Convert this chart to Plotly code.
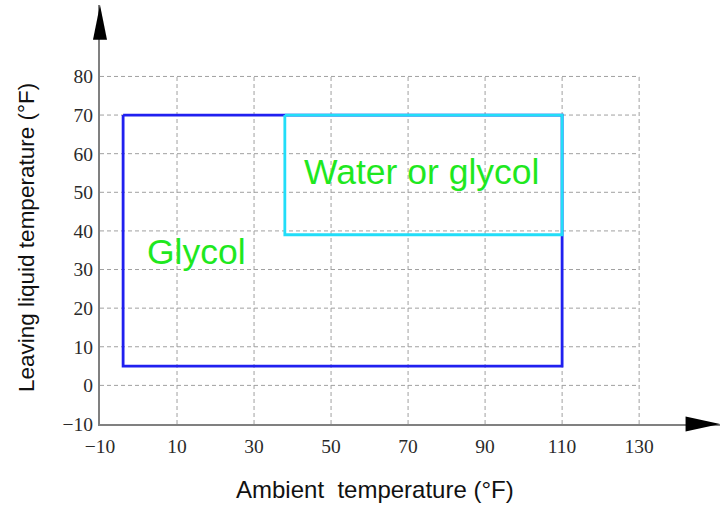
import plotly.graph_objects as go

# ---- data ----
x_ticks = [-10, 10, 30, 50, 70, 90, 110, 130]
y_ticks = [-10, 0, 10, 20, 30, 40, 50, 60, 70, 80]
x_grid = [10, 30, 50, 70, 90, 110, 130]
y_grid = [0, 10, 20, 30, 40, 50, 60, 70, 80]

glycol_x = [-4, 110]     # ambient range (°F)
glycol_y = [5, 70]       # leaving liquid range (°F)
water_x = [38, 110]
water_y = [39, 70]

region_labels = ["Glycol", "Water or glycol"]
label_x = [15, 73.5]
label_y = [34.5, 55.3]

x_range = [-10, 151]
y_range = [-10, 98.5]

fig = go.Figure()

# dashed grid (limited to the tick region)
grid_col = "#a0a0a0"
for gx in x_grid:
    fig.add_trace(go.Scatter(x=[gx, gx], y=[y_ticks[0], y_grid[-1]], mode="lines",
                             line=dict(color=grid_col, width=1, dash="4px,3px"),
                             hoverinfo="skip", showlegend=False))
for gy in y_grid:
    fig.add_trace(go.Scatter(x=[x_ticks[0], x_grid[-1]], y=[gy, gy], mode="lines",
                             line=dict(color=grid_col, width=1, dash="4px,3px"),
                             hoverinfo="skip", showlegend=False))

def rect(xs, ys):
    return ([xs[0], xs[0], xs[1], xs[1], xs[0]], [ys[1], ys[0], ys[0], ys[1], ys[1]])

gx_, gy_ = rect(glycol_x, glycol_y)
fig.add_trace(go.Scatter(x=gx_, y=gy_, mode="lines", line=dict(color="#2020f0", width=2.8),
                         showlegend=False, hoverinfo="skip"))
wx_, wy_ = rect(water_x, water_y)
fig.add_trace(go.Scatter(x=wx_, y=wy_, mode="lines", line=dict(color="#22ddf8", width=2.8),
                         showlegend=False, hoverinfo="skip"))

for t, lx, ly in zip(region_labels, label_x, label_y):
    fig.add_annotation(x=lx, y=ly, text=t, showarrow=False,
                       font=dict(family="Liberation Sans, Arial, sans-serif", size=35.5, color="#1fe81f"))

# arrowheads
fig.add_shape(type="path", xref="paper", yref="paper",
              path="M 0.9445,-0.018 L 1.0,0 L 0.9445,0.018 Z", fillcolor="black", line=dict(width=0))
fig.add_shape(type="path", xref="paper", yref="paper",
              path="M -0.0113,0.917 L 0,1.0 L 0.0113,0.917 Z", fillcolor="black", line=dict(width=0))

# axis titles
fig.add_annotation(xref="paper", yref="paper", x=0.4435, y=-0.1575, xanchor="center", yanchor="middle",
                   text="Ambient  temperature (°F)", showarrow=False,
                   font=dict(family="Liberation Sans, Arial, sans-serif", size=24, color="#111"))
fig.add_annotation(xref="paper", yref="paper", x=-0.1177, y=0.444, xanchor="center", yanchor="middle",
                   textangle=-90, text="Leaving liquid temperature (°F)", showarrow=False,
                   font=dict(family="Liberation Sans, Arial, sans-serif", size=22.5, color="#111"))

tick_font = dict(family="Liberation Serif, Times New Roman, serif", size=19.5, color="#2a2a2a")
fig.update_xaxes(range=x_range, tickvals=x_ticks,
                 ticktext=[str(v).replace("-", "\u2212") for v in x_ticks],
                 showgrid=False, zeroline=False, showline=True, linecolor="#808080", linewidth=2,
                 ticks="", tickfont=tick_font, ticklabelstandoff=4, automargin=False)
fig.update_yaxes(range=y_range, tickvals=y_ticks,
                 ticktext=[str(v).replace("-", "\u2212") for v in y_ticks],
                 showgrid=False, zeroline=False, showline=True, linecolor="#808080", linewidth=2,
                 ticks="", tickfont=tick_font, ticklabelstandoff=1, automargin=False)

fig.update_layout(width=725, height=508, margin=dict(l=100, r=5, t=5, b=84, autoexpand=False),
                  plot_bgcolor="white", paper_bgcolor="white")

fig.write_html("out.html", config={"displayModeBar": False},
               post_script="document.body.style.margin='0';")
